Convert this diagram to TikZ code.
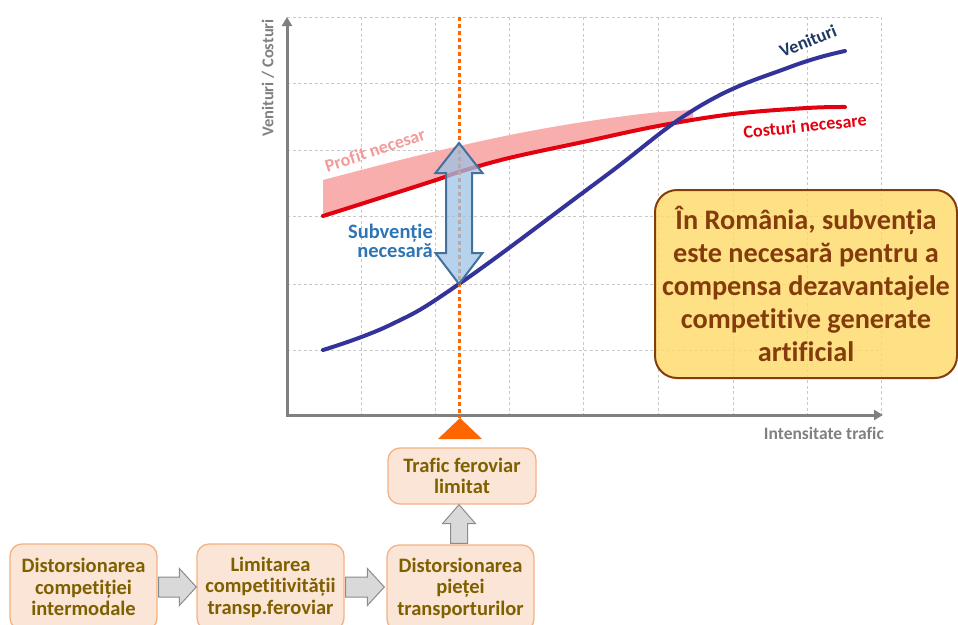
\documentclass[tikz,border=0pt]{standalone}
\usepackage{fontspec}
\setmainfont{Carlito}[Ligatures=CommonOff]
\usetikzlibrary{calc,arrows.meta}
\definecolor{gridc}{HTML}{C8C8C8}
\definecolor{axisc}{HTML}{808080}
\definecolor{redc}{HTML}{E3000F}
\definecolor{bluec}{HTML}{333399}
\definecolor{navyc}{HTML}{1F3864}
\definecolor{pinkc}{HTML}{F9AEAE}
\definecolor{pinktxt}{HTML}{F49A9A}
\definecolor{orangec}{HTML}{FF6600}
\definecolor{arrfill}{HTML}{9DC3E6}
\definecolor{arrdraw}{HTML}{41719C}
\definecolor{subtxt}{HTML}{2E75B6}
\definecolor{notefill}{HTML}{FFD966}
\definecolor{brownc}{HTML}{843C0C}
\definecolor{boxfill}{HTML}{FBE5D6}
\definecolor{boxdraw}{HTML}{F4B183}
\definecolor{boxtxt}{HTML}{7F6000}
\definecolor{blkfill}{HTML}{D9D9D9}
\definecolor{blkdraw}{HTML}{8C8C8C}
\tikzset{
  gridline/.style={gridc, line width=0.8pt, dash pattern=on 3pt off 2.5pt},
  axisline/.style={axisc, line width=3pt, line join=miter},
  curve/.style={line width=4pt, line cap=round},
  flowbox/.style={draw=boxdraw, line width=1.3pt, fill=boxfill, rounded corners=12pt,
    minimum width=147pt, inner sep=0pt, align=center, text=boxtxt,
    font=\fontsize{20.5}{21.5}\selectfont\bfseries},
  blockarr/.style={draw=blkdraw, fill=blkfill, line width=1pt, line join=miter},
  notebox/.style={draw=brownc, line width=2pt, fill=notefill, fill opacity=0.8, text opacity=1,
    rounded corners=22pt, minimum width=302pt, minimum height=188pt, align=center,
    text=brownc, font=\fontsize{28.3}{32.8}\selectfont\bfseries},
  lbl/.style={font=\fontsize{18}{20}\selectfont\bfseries, inner sep=0pt}
}
\begin{document}
\begin{tikzpicture}[x=1pt,y=-1pt]
\useasboundingbox (0,0) rectangle (958,624);
% grid
\foreach \xx in {361,435,509,583,658,733,807,881}
  \draw[gridline] (\xx,17) -- (\xx,415);
\foreach \yy in {17,83,150,216,284,350}
  \draw[gridline] (287,\yy) -- (881,\yy);
% profit band
\fill[pinkc] plot[smooth, tension=0.6] coordinates {(323,180) (400,160) (459,146) (520,133) (583,122) (650,113) (693,110)}
  -- plot[smooth, tension=0.6] coordinates {(693,119) (658,126) (583,142) (509,158) (459,172) (436,180) (361,204) (323,216)} -- cycle;
% curves
\draw[curve, redc] plot[smooth, tension=0.6] coordinates {(323,216) (361,204) (436,180) (459,172) (509,158) (583,142) (658,126) (733,114) (807,108) (845,107)};
\draw[curve, bluec] plot[smooth, tension=0.7] coordinates {(323,350) (390,325) (459,284) (600,180) (700,106) (790,67) (845,51)};
% axes
\draw[axisline, {Triangle[length=9pt,width=10pt]}-{Triangle[length=9pt,width=10pt]}] (287,17) -- (287,415) -- (883,415);
% orange dotted line
\draw[orangec, line width=3pt, dash pattern=on 3.5pt off 3.5pt] (459,17) -- (459,418);
% double arrow
\filldraw[fill=arrfill, fill opacity=0.75, draw=arrdraw, line width=2pt, line join=miter]
  (459,143) -- (482.5,173) -- (472,173) -- (472,253) -- (482.5,253) -- (459,284)
  -- (435.5,253) -- (446,253) -- (446,173) -- (435.5,173) -- cycle;
% note box
\node[notebox] (note) at (806,284) {În România, subvenția\\este necesară pentru a\\compensa dezavantajele\\competitive generate\\artificial};
% labels
\node[lbl, text=axisc, rotate=90, font=\fontsize{16.5}{18}\selectfont\bfseries] (ylab) at (268,78) {Venituri / Costuri};
\node[lbl, text=axisc, anchor=east, font=\fontsize{17.5}{19}\selectfont\bfseries] (xlab) at (884,433) {Intensitate trafic};
\node[lbl, text=pinktxt, rotate=18] (plab) at (375,150) {Prof\kern0.6pt it necesar};
\node[lbl, text=navyc, rotate=22] (vlab) at (808,41) {Venituri};
\node[lbl, text=redc, rotate=6] (clab) at (805,126) {Costuri necesare};
\node[lbl, text=subtxt, anchor=east, align=right, font=\fontsize{20.5}{19}\selectfont\bfseries] (slab) at (433,241) {Subvenție\\necesară};
% triangle
\fill[orangec] (438,439) -- (482,439) -- (460,418) -- cycle;
% flow boxes
\node[flowbox, minimum height=86pt] (b1) at (83.5,587) {Distorsionarea\\competiției\\intermodale};
\node[flowbox, minimum height=86pt] (b2) at (270.5,587) {Limitarea\\competitivității\\transp.feroviar};
\node[flowbox, minimum height=86pt] (b3) at (460.5,588) {Distorsionarea\\pieței\\transporturilor};
\node[flowbox, minimum width=148pt, minimum height=56pt] (b4) at (462,476) {Trafic feroviar\\limitat};
% block arrows
\draw[blockarr] let \p1=(b1.east), \p2=(b2.west) in
  (\x1+1pt,\y1+10pt) -- (\x2-17pt,\y1+10pt) -- (\x2-17pt,\y1+18.5pt) -- (\x2,\y1)
  -- (\x2-17pt,\y1-18.5pt) -- (\x2-17pt,\y1-10pt) -- (\x1+1pt,\y1-10pt) -- cycle;
\draw[blockarr] let \p1=(b2.east), \p2=(b3.west) in
  (\x1+1pt,\y1+10pt) -- (\x2-19pt,\y1+10pt) -- (\x2-19pt,\y1+18.5pt) -- (\x2-2pt,\y1)
  -- (\x2-19pt,\y1-18.5pt) -- (\x2-19pt,\y1-10pt) -- (\x1+1pt,\y1-10pt) -- cycle;
\draw[blockarr] let \p1=(b3.north), \p2=(b4.south) in
  (\x1-10pt,\y1+1pt) -- (\x1-10pt,\y2-19pt) -- (\x1-18pt,\y2-19pt) -- (\x1-1.5pt,\y2)
  -- (\x1+15pt,\y2-19pt) -- (\x1+7pt,\y2-19pt) -- (\x1+7pt,\y1+1pt) -- cycle;
\end{tikzpicture}
\end{document}
